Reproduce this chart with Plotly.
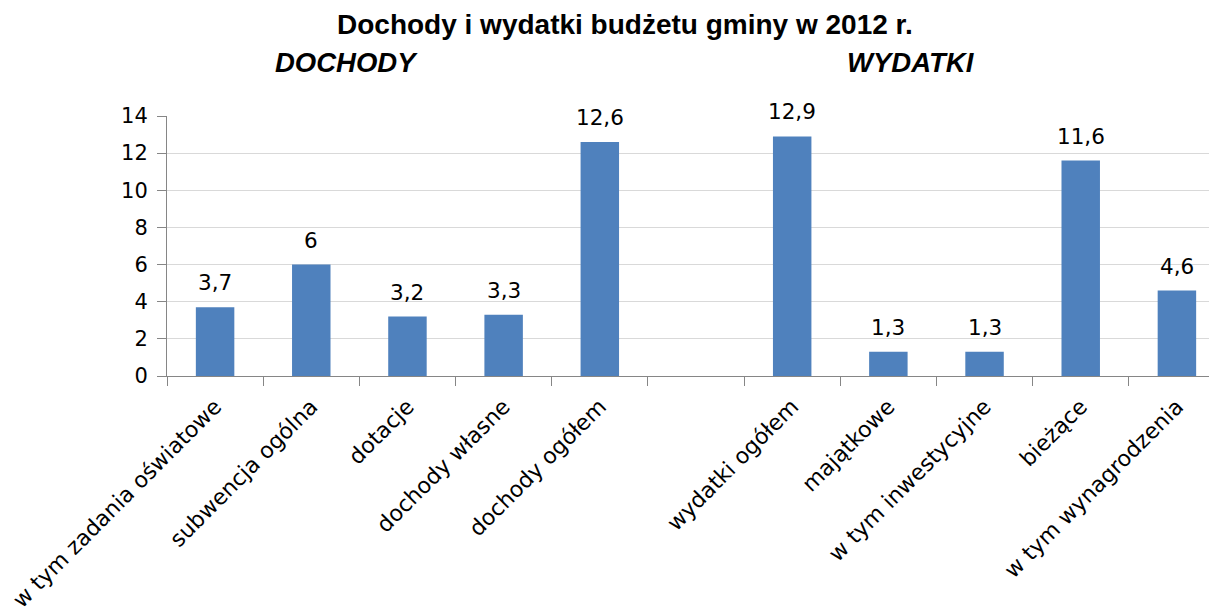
import plotly.graph_objects as go

# ---- data ----
categories = [
    "w tym zadania oświatowe", "subwencja ogólna", "dotacje", "dochody własne",
    "dochody ogółem", " ", "wydatki ogółem", "majątkowe", "w tym inwestycyjne",
    "bieżące", "w tym wynagrodzenia",
]
values = [3.7, 6, 3.2, 3.3, 12.6, None, 12.9, 1.3, 1.3, 11.6, 4.6]
y_ticks = [0, 2, 4, 6, 8, 10, 12, 14]
title_text = "Dochody i wydatki budżetu gminy w 2012 r."
group_labels = ["DOCHODY", "WYDATKI"]


def fmt(v):
    if v is None:
        return ""
    s = f"{v:g}"
    return s.replace(".", ",")


BAR = "#4F81BD"
NUMFONT = "DejaVu Sans"

fig = go.Figure()
fig.add_trace(go.Bar(
    x=categories, y=values, marker=dict(color=BAR, line=dict(width=0)),
    width=0.4, hoverinfo="skip",
))

annotations = []
for c, v in zip(categories, values):
    if v is None:
        continue
    annotations.append(dict(
        x=c, y=v, xref="x", yref="y", text=fmt(v), showarrow=False,
        yanchor="bottom", xanchor="center", yshift=10,
        font=dict(family=NUMFONT, size=21.5, color="#000"),
    ))

annotations.append(dict(
    x=0.433, y=1.35, xref="paper", yref="paper", text="<b>" + title_text + "</b>",
    showarrow=False, xanchor="center", yanchor="middle",
    font=dict(family="Liberation Sans", size=28, color="#000"),
))
annotations.append(dict(
    x=0.1697, y=1.206, xref="paper", yref="paper", text="<b><i>" + group_labels[0] + "</i></b>",
    showarrow=False, xanchor="center", yanchor="middle",
    font=dict(family="Liberation Sans", size=27.5, color="#000"),
))
annotations.append(dict(
    x=0.703, y=1.206, xref="paper", yref="paper", text="<b><i>" + group_labels[1] + "</i></b>",
    showarrow=False, xanchor="center", yanchor="middle",
    font=dict(family="Liberation Sans", size=27.5, color="#000"),
))

fig.update_layout(
    width=1217, height=608,
    margin=dict(l=156, r=0, t=108, b=240),
    paper_bgcolor="white", plot_bgcolor="white",
    showlegend=False,
    annotations=annotations,
    xaxis=dict(
        type="category", categoryorder="array", categoryarray=categories,
        range=[-0.5, 10.5],
        showline=True, linecolor="#868686", linewidth=1,
        ticks="outside", tickson="boundaries", ticklen=9, tickcolor="#868686",
        tickangle=-45, showgrid=False,
        tickfont=dict(family=NUMFONT, size=22, color="#000"),
        ticklabelstandoff=8,
    ),
    yaxis=dict(
        range=[0, 14], tickvals=y_ticks,
        showline=True, linecolor="#868686", linewidth=1,
        ticks="outside", ticklen=9, tickcolor="#868686",
        showgrid=True, gridcolor="#D9D9D9", gridwidth=1,
        zeroline=False,
        tickfont=dict(family=NUMFONT, size=21, color="#000"),
        ticklabelstandoff=5,
    ),
)

fig.write_html("out.html")
